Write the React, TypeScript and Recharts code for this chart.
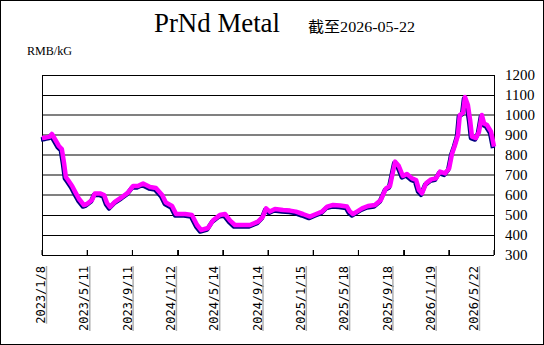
import { CartesianGrid, Line, LineChart, ReferenceLine, XAxis, YAxis } from "recharts";

// days since 2023/1/8
const days = [
  0, 11, 22, 27, 35, 46, 54, 60, 65, 71, 82, 90, 101, 114, 122, 136, 144, 158,
  169, 177, 185, 199, 218, 234, 248, 261, 275, 294, 310, 327, 337, 354, 365,
  389, 408, 422, 433, 452, 465, 484, 498, 512, 525, 552, 566, 588, 601, 610,
  620, 634, 656, 675, 691, 710, 729, 746, 762, 776, 792, 811, 830, 838, 846,
  857, 871, 887, 906, 922, 936, 947, 961, 971, 982, 993, 1007, 1018, 1026,
  1034, 1045, 1059, 1072, 1083, 1097, 1108, 1116, 1124, 1132, 1137, 1146,
  1151, 1159, 1165, 1170, 1181, 1189, 1197, 1203, 1211, 1222, 1230,
];

const prices = [
  885, 888, 892, 905, 880, 845, 830, 760, 690, 675, 645, 617, 580, 550, 555,
  575, 608, 608, 600, 560, 540, 567, 590, 612, 645, 645, 658, 640, 635, 600,
  562, 545, 505, 505, 500, 450, 425, 435, 472, 500, 505, 472, 450, 450, 450,
  467, 492, 533, 517, 530, 525, 522, 517, 505, 492, 505, 517, 542, 550, 547,
  542, 517, 505, 517, 533, 545, 550, 575, 633, 645, 767, 745, 695, 705, 683,
  675, 625, 608, 658, 678, 683, 717, 708, 733, 808, 850, 900, 1000, 1012,
  1090, 1050, 975, 892, 885, 915, 1000, 958, 950, 917, 842,
];

const tickDays = [0, 123, 246, 369, 492, 615, 738, 861, 984, 1107, 1230];
const tickLabels = [
  "2023/1/8",
  "2023/5/11",
  "2023/9/11",
  "2024/1/12",
  "2024/5/14",
  "2024/9/14",
  "2025/1/15",
  "2025/5/18",
  "2025/9/18",
  "2026/1/19",
  "2026/5/22",
];

const yTicks = [300, 400, 500, 600, 700, 800, 900, 1000, 1100, 1200];
const blackLevels = [300, 400, 500, 1100, 1200];
const grayLevels = [600, 700, 800, 900, 1000];

const data = days.map((day, i) => ({ day, price: prices[i] }));

function TickMark({ x }: any) {
  const px = Math.round(x) + 0.5;
  return <line x1={px} y1={250} x2={px} y2={255} stroke="#000" strokeWidth={1} />;
}

function DateLabel({ x, y, payload }: any) {
  const label = tickLabels[tickDays.indexOf(payload.value)] ?? "";
  const top = y + 10;
  const len = label.length * 7.22;
  return (
    <g>
      <text
        x={x}
        y={top}
        dy="0.35em"
        textAnchor="end"
        transform={`rotate(-90 ${x} ${top})`}
        fontFamily="DejaVu Sans Mono"
        fontSize={12}
        fill="#000"
      >
        {label}
      </text>
      <line x1={x + 5.5} y1={top} x2={x + 5.5} y2={top + len} stroke="#b0b0b0" strokeWidth={1.5} />
    </g>
  );
}

export default function App() {
  return (
    <div style={{ position: "absolute", left: 0, top: 0, width: 544, height: 345, background: "#fff" }}>
      <style>{`.shadow .recharts-line-curve { transform: translate(-1px, 1.5px); }
.recharts-cartesian-grid line { shape-rendering: crispEdges; }`}</style>
      <LineChart width={544} height={345} data={data} margin={{ top: 75, right: 0, bottom: 0, left: 42 }}>
        <CartesianGrid vertical={false} horizontalValues={grayLevels} stroke="#808080" strokeWidth={2} />
        <CartesianGrid vertical={false} horizontalValues={blackLevels} stroke="#000" strokeWidth={1} />
        <CartesianGrid horizontal={false} verticalValues={[0, 1230]} stroke="#000" strokeWidth={1} />
        {tickDays.map((d) => (
          <ReferenceLine
            key={d}
            segment={[
              { x: d, y: 300 },
              { x: d, y: 325 },
            ]}
            stroke="#000"
            strokeWidth={1}
          />
        ))}
        <XAxis
          dataKey="day"
          type="number"
          domain={[0, 1230]}
          ticks={tickDays}
          interval={0}
          height={1}
          axisLine={false}
          tickLine={false}
          tickSize={0}
          tickMargin={0}
          tick={<TickMark />}
        />
        <XAxis
          xAxisId="labels"
          dataKey="day"
          type="number"
          domain={[0, 1230]}
          allowDataOverflow
          ticks={tickDays}
          interval={0}
          height={89}
          padding={{ left: -1, right: 20 }}
          axisLine={false}
          tickLine={false}
          tickSize={0}
          tickMargin={0}
          tick={<DateLabel />}
        />
        <YAxis
          orientation="right"
          width={50}
          domain={[300, 1200]}
          ticks={yTicks}
          interval={0}
          axisLine={false}
          tickLine={false}
          tickSize={0}
          tickMargin={11}
          tick={{ fill: "#000", fontSize: 15, fontFamily: "Liberation Serif" }}
        />
        <Line
          className="shadow"
          dataKey="price"
          type="linear"
          stroke="#000080"
          strokeWidth={4.5}
          strokeLinejoin="round"
          dot={false}
          activeDot={false}
          isAnimationActive={false}
        />
        <Line
          dataKey="price"
          type="linear"
          stroke="#ff00ff"
          strokeWidth={4.5}
          strokeLinejoin="round"
          dot={false}
          activeDot={false}
          isAnimationActive={false}
        />
      </LineChart>
      <svg width={544} height={345} style={{ position: "absolute", left: 0, top: 0, pointerEvents: "none" }}>
        <rect x={0.5} y={0.5} width={543} height={344} fill="none" stroke="#000" />
        <text x={154} y={32} fontFamily="Liberation Serif" fontSize={28} textLength={126} lengthAdjust="spacingAndGlyphs" fill="#000">
          PrNd Metal
        </text>
        <text x={308} y={32} fontFamily="Liberation Serif, Noto Sans CJK SC" fontSize={15} textLength={107} lengthAdjust="spacingAndGlyphs" fill="#000">
          截至2026-05-22
        </text>
        <text x={27} y={55} fontFamily="Liberation Serif" fontSize={13} textLength={45} lengthAdjust="spacingAndGlyphs" fill="#000">
          RMB/kG
        </text>
      </svg>
    </div>
  );
}
